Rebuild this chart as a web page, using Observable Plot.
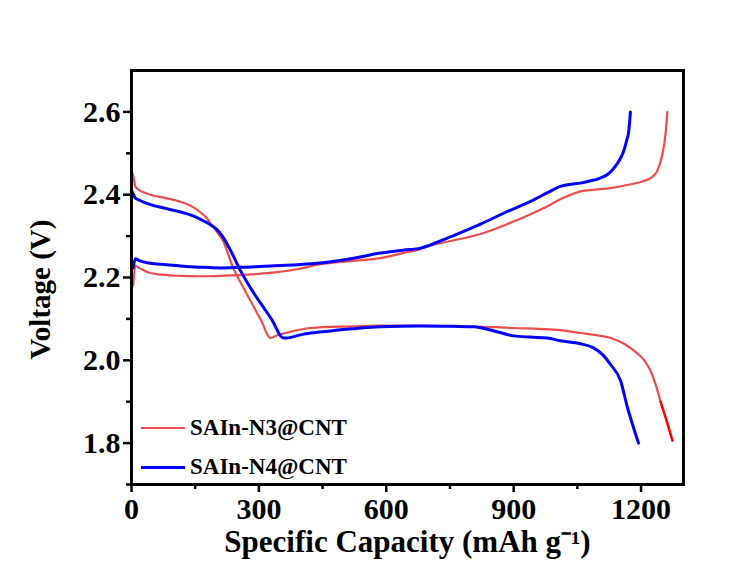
<!DOCTYPE html>
<html>
<head>
<meta charset="utf-8">
<script src="https://cdn.jsdelivr.net/npm/d3@7"></script>
<script src="https://cdn.jsdelivr.net/npm/@observablehq/plot@0.6"></script>
<style>
  html, body { margin: 0; padding: 0; background: #fff; }
  #wrap { position: relative; width: 747px; height: 570px; }
  .leg { position: absolute; left: 141px; display: flex; align-items: center;
         font-family: "Liberation Serif", serif; font-weight: bold; font-size: 23px; color: #000; }
  .sw { display: inline-block; width: 44px; margin-right: 5px; }
</style>
</head>
<body>
<div id="wrap"></div>
<script>
// ---- data (specific capacity, mAh g^-1 ; voltage, V) ----
const seriesNames = ["SAIn-N3@CNT", "SAIn-N4@CNT"];
const seriesColors = ["#ee4c4c", "#0000ff"];
const tailColor = "#ff0000";
const tailStart = 1246;

// SAIn-N3@CNT discharge
const n3DisCap  = [0,3,9,20,33,55,80,105,127,145,158,175,191,205,214,240,268,290,305,327,345,363,421,520,586,681,760,806,860,900,960,1010,1057,1100,1128,1160,1192,1210,1222,1235,1246,1260,1274];
const n3DisVolt = [2.455,2.449,2.42,2.41,2.404,2.397,2.392,2.386,2.379,2.37,2.361,2.346,2.324,2.305,2.292,2.222,2.167,2.125,2.097,2.054,2.061,2.066,2.078,2.082,2.084,2.084,2.082,2.081,2.08,2.078,2.076,2.073,2.066,2.06,2.054,2.04,2.016,1.997,1.975,1.94,1.90,1.855,1.806];
// SAIn-N3@CNT charge
const n3ChCap  = [4,9,20,40,70,115,160,210,270,327,390,445,520,586,640,681,704,760,822,880,940,980,1010,1040,1057,1090,1128,1170,1206,1225,1238,1246,1253,1258,1262];
const n3ChVolt = [2.18,2.228,2.222,2.212,2.207,2.204,2.203,2.204,2.207,2.211,2.22,2.232,2.24,2.247,2.259,2.269,2.277,2.29,2.305,2.327,2.353,2.372,2.389,2.402,2.408,2.412,2.416,2.424,2.433,2.442,2.457,2.48,2.512,2.55,2.60];

// SAIn-N4@CNT discharge
const n4DisCap  = [0,3,9,20,33,55,80,105,127,145,158,175,191,205,214,235,257,285,304,330,358,365,400,469,520,586,681,760,806,850,900,940,979,1010,1057,1088,1110,1128,1152,1168,1180,1194];
const n4DisVolt = [2.41,2.404,2.392,2.386,2.38,2.373,2.367,2.361,2.355,2.349,2.343,2.334,2.324,2.312,2.30,2.262,2.216,2.167,2.138,2.099,2.054,2.054,2.062,2.071,2.076,2.081,2.083,2.082,2.081,2.072,2.059,2.056,2.054,2.047,2.04,2.03,2.013,1.99,1.95,1.886,1.845,1.80];
// SAIn-N4@CNT charge
const n4ChCap  = [4,9,20,40,70,115,160,210,270,327,390,445,520,586,640,681,704,760,822,880,940,980,1010,1040,1057,1080,1104,1120,1136,1150,1159,1166,1171,1175];
const n4ChVolt = [2.223,2.245,2.24,2.235,2.232,2.228,2.225,2.223,2.225,2.228,2.231,2.235,2.246,2.259,2.266,2.271,2.279,2.302,2.329,2.357,2.384,2.405,2.42,2.426,2.428,2.433,2.44,2.448,2.464,2.485,2.505,2.53,2.553,2.60];

const xMajor = [0, 300, 600, 900, 1200];
const xMinor = [150, 450, 750, 1050];
const yMajor = [1.8, 2.0, 2.2, 2.4, 2.6];
const yMinor = [1.7, 1.9, 2.1, 2.3, 2.5];

// ---- table ----
function rows(series, branch, caps, volts) {
  return caps.map((c, i) => ({series, branch, curve: series + "-" + branch, cap: c, volt: volts[i]}));
}
const n3 = [...rows(seriesNames[0], "dis", n3DisCap, n3DisVolt), ...rows(seriesNames[0], "ch", n3ChCap, n3ChVolt)];
const n4 = [...rows(seriesNames[1], "dis", n4DisCap, n4DisVolt), ...rows(seriesNames[1], "ch", n4ChCap, n4ChVolt)];
const n3Tail = n3.filter(d => d.branch === "dis" && d.cap >= tailStart);

const chart = Plot.plot({
  width: 747,
  height: 570,
  marginLeft: 131,
  marginRight: 64,
  marginTop: 70,
  marginBottom: 86,
  style: {fontFamily: "'Liberation Serif', serif", fontWeight: "bold", color: "#000", background: "#fff"},
  x: {domain: [0, 1300]},
  y: {domain: [1.7, 2.7]},
  marks: [
    Plot.line(n3, {x: "cap", y: "volt", z: "curve", stroke: seriesColors[0], strokeWidth: 2.2, curve: "monotone-x"}),
    Plot.line(n3Tail, {x: "cap", y: "volt", stroke: tailColor, strokeWidth: 2.4, curve: "monotone-x"}),
    Plot.line(n4, {x: "cap", y: "volt", z: "curve", stroke: seriesColors[1], strokeWidth: 3, curve: "monotone-x"}),
    Plot.axisX({ticks: xMajor, tickSize: 8, tickPadding: 5, fontSize: 30, label: null, strokeWidth: 2.5, tickFormat: d3.format("d")}),
    Plot.axisX({ticks: xMinor, tickSize: 5, text: null, label: null, strokeWidth: 2.5}),
    Plot.axisY({ticks: yMajor, tickSize: 8, tickPadding: 3, fontSize: 30, label: null, strokeWidth: 2.5, tickFormat: d3.format(".1f")}),
    Plot.axisY({ticks: yMinor, tickSize: 5, text: null, label: null, strokeWidth: 2.5}),
    Plot.frame({stroke: "#000", strokeWidth: 3}),
    Plot.text(["Voltage (V)"], {text: d => d, frameAnchor: "left", dx: -91, dy: 12, rotate: -90, fontSize: 29, fontWeight: "bold", textAnchor: "middle", fill: "#000"}),
    Plot.text(["Specific Capacity (mAh g\u207B\u00B9)"], {text: d => d, frameAnchor: "bottom", dy: 67, fontSize: 31, fontWeight: "bold", fill: "#000"})
  ]
});

const wrap = document.getElementById("wrap");
wrap.appendChild(chart);

// legend
const legTops = [428, 467];
seriesNames.forEach((name, i) => {
  const d = document.createElement("div");
  d.className = "leg";
  d.style.top = (legTops[i] - 14) + "px";
  d.style.height = "28px";
  const sw = document.createElement("span");
  sw.className = "sw";
  sw.style.borderTop = (i === 0 ? 2.2 : 3) + "px solid " + seriesColors[i];
  d.appendChild(sw);
  const t = document.createElement("span");
  t.textContent = name;
  d.appendChild(t);
  wrap.appendChild(d);
});
</script>
</body>
</html>
